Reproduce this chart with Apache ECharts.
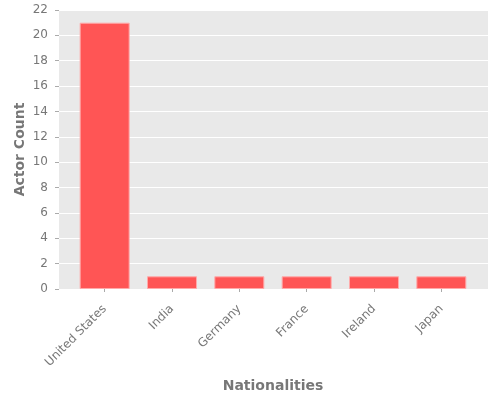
<!DOCTYPE html>
<html>
<head>
    <meta charset="utf-8">
    <script src="https://cdn.jsdelivr.net/npm/echarts@6/dist/echarts.min.js"></script>
    <style>
        html, body { margin: 0; padding: 0; background: #fff; }
    </style>
</head>
<body>
    <div id="main" style="width: 500px;height: 400px;"></div>
    <script>
        var nationalities = ['United States', 'India', 'Germany', 'France', 'Ireland', 'Japan'];
        var actorCounts = [21, 1, 1, 1, 1, 1];
        var yMin = 0, yMax = 22, yStep = 2;

        var myChart = echarts.init(document.getElementById('main'));
        // grid 0 = grey panel with y axis + gridlines, grid 1 = bars (inset like matplotlib margins)
        var option = {
            animation: false,
            textStyle: { fontFamily: 'DejaVu Sans' },
            grid: [{
                left: 59, right: 12, top: 10, bottom: 111,
                outerBoundsMode: 'none',
                show: true, backgroundColor: '#E9E9E9', borderWidth: 0
            }, {
                left: 71, right: 25, top: 10, bottom: 111,
                outerBoundsMode: 'none'
            }],
            xAxis: [{
                gridIndex: 0,
                type: 'value',
                show: false
            }, {
                gridIndex: 1,
                type: 'category',
                data: nationalities,
                name: 'Nationalities',
                nameLocation: 'middle',
                nameGap: 90,
                nameMoveOverlap: false,
                nameTextStyle: { color: '#777', fontSize: 14, fontWeight: 'bold' },
                axisLine: { show: false },
                axisTick: { show: true, alignWithLabel: true, length: 3, lineStyle: { color: '#aaa' } },
                axisLabel: { rotate: 45, color: '#777', fontSize: 12, margin: 18 }
            }],
            yAxis: [{
                gridIndex: 0,
                type: 'value',
                min: yMin, max: yMax, interval: yStep,
                name: 'Actor Count',
                nameLocation: 'middle',
                nameGap: 32,
                nameMoveOverlap: false,
                nameTextStyle: { color: '#777', fontSize: 14, fontWeight: 'bold' },
                axisLine: { show: false },
                axisTick: { show: true, length: 4, lineStyle: { color: '#aaa' } },
                axisLabel: { color: '#777', fontSize: 12, margin: 11 },
                splitLine: { lineStyle: { color: '#fff', width: 1 } }
            }, {
                gridIndex: 1,
                type: 'value',
                min: yMin, max: yMax, interval: yStep,
                show: false
            }],
            series: [{
                type: 'bar',
                xAxisIndex: 1,
                yAxisIndex: 1,
                data: actorCounts,
                barWidth: 50,
                itemStyle: { color: '#FF5555', borderColor: '#FFAAAA', borderWidth: 1 }
            }]
        };
        myChart.setOption(option);
    </script>
</body>
</html>
